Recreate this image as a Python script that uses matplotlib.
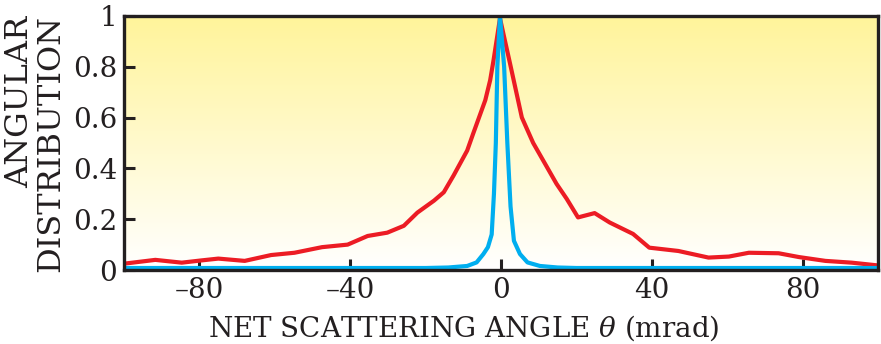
import numpy as np
import matplotlib
matplotlib.use("Agg")
import matplotlib.pyplot as plt
from matplotlib.colors import LinearSegmentedColormap

plt.rcParams['font.family'] = ['DejaVu Serif']
plt.rcParams['mathtext.fontset'] = 'dejavuserif'

# red curve (broad distribution)
red_x = [-100, -91.7, -84.7, -79.4, -75, -68, -61, -54.8, -47.5, -40.7, -35.4, -30.2,
         -25.8, -22.2, -17.8, -15.2, -12.6, -9, -7.4, -4.2, -2.9, -2, -0.3,
         2.4, 5.5, 8.5, 14.7, 17.4, 20.4, 24.8, 28.8, 35, 39.3, 47, 55, 60.4,
         65.7, 73.6, 79, 86, 93, 100]
red_y = [0.025, 0.04, 0.029, 0.038, 0.045, 0.036, 0.059, 0.068, 0.09, 0.10, 0.134, 0.147,
         0.174, 0.226, 0.273, 0.306, 0.372, 0.47, 0.537, 0.668, 0.747, 0.826, 0.99,
         0.81, 0.60, 0.50, 0.339, 0.28, 0.207, 0.224, 0.187, 0.142, 0.088, 0.075, 0.049, 0.053,
         0.068, 0.066, 0.051, 0.036, 0.029, 0.018]

# blue curve (narrow peak)
blue_x = [-100, -20, -14, -9, -6.5, -4.7, -3.5, -2.5, -1.9, -1.4, -1.0, -0.3,
          0.8, 1.65, 2.5, 3.4, 5, 7, 10.3, 15, 20, 100]
blue_y = [0.008, 0.008, 0.01, 0.016, 0.03, 0.063, 0.09, 0.14, 0.3, 0.5, 0.8, 1.0,
          0.8, 0.5, 0.25, 0.115, 0.063, 0.03, 0.016, 0.01, 0.008, 0.008]

x_ticks = [-80, -40, 0, 40, 80]
x_labels = ['\u201380', '\u201340', '0', '40', '80']
y_ticks = [0, 0.2, 0.4, 0.6, 0.8, 1]
y_labels = ['0', '0.2', '0.4', '0.6', '0.8', '1']

fig = plt.figure(figsize=(8.81, 3.44), dpi=100)
ax = fig.add_axes([0.1408, 0.215, 0.856, 0.739])

# yellow to white background gradient
cmap = LinearSegmentedColormap.from_list('bg', ['#ffffff', '#fff49a'])
grad = np.linspace(0, 1, 256).reshape(-1, 1)
ax.imshow(grad, extent=[-100, 100, 0, 1], origin='lower', aspect='auto',
          cmap=cmap, zorder=0)

ax.plot(red_x, red_y, color='#ec1c24', lw=3.0, zorder=3, solid_joinstyle='round')
ax.plot(blue_x, blue_y, color='#00aeef', lw=3.0, zorder=4, solid_joinstyle='round')

ax.set_xlim(-100, 100)
ax.set_ylim(0, 1)
ax.set_xticks(x_ticks)
ax.set_xticklabels(x_labels)
ax.set_yticks(y_ticks)
ax.set_yticklabels(y_labels)
ax.tick_params(direction='in', length=8, width=2.2, labelsize=20, colors='#231f20', pad=5)
for s in ax.spines.values():
    s.set_linewidth(2.4)
    s.set_color('#231f20')
    s.set_zorder(5)

ax.set_xlabel(r'NET SCATTERING ANGLE $\theta$ (mrad)', fontsize=20, color='#231f20')
ax.xaxis.set_label_coords(0.45, -0.17)
fig.text(0.022, 0.955, 'ANGULAR', rotation=90, ha='center', va='top', fontsize=23, color='#231f20')
fig.text(0.057, 0.955, 'DISTRIBUTION', rotation=90, ha='center', va='top', fontsize=23, color='#231f20')

fig.savefig('out.png', dpi=100)
